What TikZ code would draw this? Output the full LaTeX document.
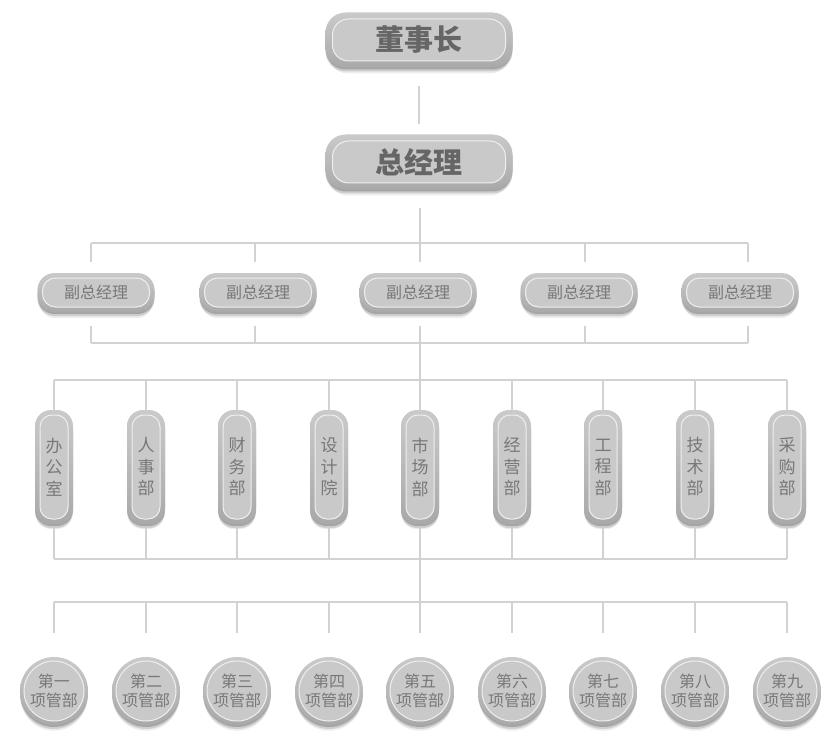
\documentclass[tikz,border=0pt]{standalone}
\usepackage{fontspec}
\newfontfamily\cjk{Noto Sans CJK SC}
\usetikzlibrary{shadows}
\definecolor{rimtop}{HTML}{CACACA}
\definecolor{rimbot}{HTML}{A9A9A9}
\definecolor{boxinner}{HTML}{C9C9C9}
\definecolor{boxline}{HTML}{EFEFEF}
\definecolor{txtgray}{HTML}{787878}
\definecolor{bigtxt}{HTML}{666666}
\definecolor{linegray}{HTML}{D2D2D2}
\tikzset{
  conn/.style={draw=linegray, line width=1.4pt},
  softshadow/.style={
    drop shadow={shadow xshift=0pt, shadow yshift=-2pt, opacity=0.2, fill=black},
    drop shadow={shadow xshift=0pt, shadow yshift=-4pt, opacity=0.13, fill=black},
    drop shadow={shadow xshift=0pt, shadow yshift=-7pt, shadow scale=0.97, opacity=0.07, fill=black}},
  outer/.style={top color=rimtop, bottom color=rimbot, draw=none, softshadow, inner sep=0pt},
  inner/.style={draw=boxline, line width=1pt, fill=boxinner, inner sep=0pt, text=txtgray, align=center},
  topo/.style={outer, minimum width=187pt, minimum height=55pt, rounded corners=20pt},
  topi/.style={inner, minimum width=173pt, minimum height=42pt, rounded corners=16pt, text=bigtxt, font=\cjk\bfseries\fontsize{29}{31}\selectfont},
  vo/.style={outer, minimum width=117pt, minimum height=39pt, rounded corners=17pt},
  vi/.style={inner, minimum width=107pt, minimum height=29pt, rounded corners=13pt, font=\cjk\fontsize{16}{18}\selectfont},
  do/.style={outer, minimum width=38pt, minimum height=114pt, rounded corners=16pt},
  di/.style={inner, minimum width=28pt, minimum height=104pt, rounded corners=12pt, font=\cjk\fontsize{17}{21.5}\selectfont},
  co/.style={outer, circle, minimum size=68pt},
  ci/.style={inner, circle, minimum size=60pt, font=\cjk\fontsize{16}{18.5}\selectfont},
}
\begin{document}
\begin{tikzpicture}[x=1pt,y=1pt]
\useasboundingbox (0,0) rectangle (833,-741);
% top
\node[topo] (chairO) at (419,-40) {};
\node[topi] (chair) at (chairO) {董事长};
\node[topo] (gmO) at (419,-162) {};
\node[topi] (gm) at (gmO) {总经理};
\draw[conn, shorten <=18pt, shorten >=10pt] (chairO) -- (gmO);
% vice managers
\foreach \i/\bx/\lx in {1/96/91, 2/258/255, 3/418/420, 4/579/585, 5/740/748}{
  \node[vo] (v\i O) at (\bx,-292.5) {};
  \node[vi] (v\i) at (v\i O) {副总经理};
  \coordinate (vt\i) at (\lx,-243);
  \coordinate (vb\i) at (\lx,-343);
}
\coordinate (gmbus) at (420,-243);
\draw[conn, shorten <=18pt] (gmO.south -| gmbus) -- (gmbus);
\draw[conn] (vt1) -- (vt5);
\draw[conn] (vb1) -- (vb5);
\foreach \i in {1,...,5}{
  \draw[conn, shorten >=11pt] (vt\i) -- (vt\i |- v\i O.north);
  \draw[conn, shorten <=14pt] (vt\i |- v\i O.south) -- (vb\i);
}
% departments
\foreach \i/\x/\t in {1/54/办\\公\\室, 2/146/人\\事\\部, 3/237/财\\务\\部, 4/329/设\\计\\院, 5/420/市\\场\\部, 6/512/经\\营\\部, 7/603/工\\程\\部, 8/695/技\\术\\部, 9/787/采\\购\\部}{
  \node[do] (d\i O) at (\x,-467) {};
  \node[di] (d\i) at (d\i O) {\t};
  \coordinate (dt\i) at (\x,-380);
  \coordinate (db\i) at (\x,-559);
  \coordinate (pt\i) at (\x,-602);
}
\draw[conn] (dt1) -- (dt9);
\draw[conn] (db1) -- (db9);
\draw[conn] (pt1) -- (pt9);
\draw[conn] (vb3) -- (d5O.north);
\foreach \i in {1,...,9}{
  \draw[conn] (dt\i) -- (d\i O.north);
  \draw[conn, shorten <=4pt] (d\i O.south) -- (db\i);
}
% projects
\foreach \i/\n in {1/一, 2/二, 3/三, 4/四, 5/五, 6/六, 7/七, 8/八, 9/九}{
  \node[co] (p\i O) at (dt\i |- 0,-691) {};
  \node[ci] (p\i) at (p\i O) {第\n\\项管部};
  \draw[conn, shorten >=24pt] (pt\i) -- (p\i O.north);
}
\draw[conn] (db5) -- (pt5);
\end{tikzpicture}
\end{document}
